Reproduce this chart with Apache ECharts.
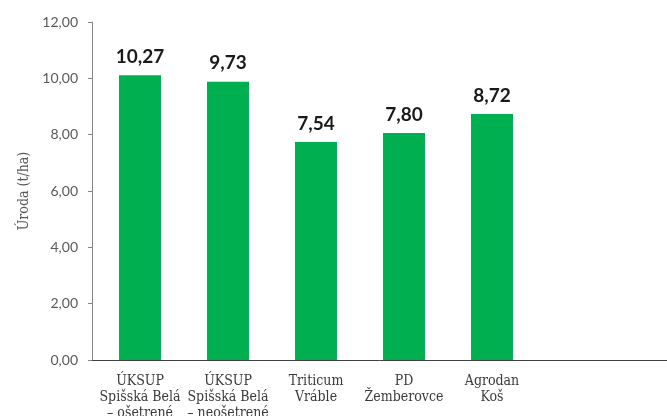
<!DOCTYPE html>
<html>
<head>
<meta charset="utf-8">
<script src="https://cdn.jsdelivr.net/npm/echarts@6/dist/echarts.min.js"></script>
<style>
  html, body { margin: 0; padding: 0; background: #fff; }
</style>
</head>
<body>
<div id="myChart" style="width:667px;height:416px"></div>
<script>
// data
var categories = [
  'ÚKSUP\nSpišská Belá\n– ošetrené',
  'ÚKSUP\nSpišská Belá\n– neošetrené',
  'Triticum\nVráble',
  'PD\nŽemberovce',
  'Agrodan\nKoš'
]
// bar heights as drawn
var barValues = [10.11, 9.88, 7.74, 8.06, 8.73]
// value labels as printed above the bars
var barLabels = ['10,27', '9,73', '7,54', '7,80', '8,72']
var yTicks = { min: 0, max: 12, interval: 2 }

var myChart = echarts.init(document.getElementById('myChart'))

var options = {
  animation: false,
  grid: [
    { left: 96, right: 131, top: 22, bottom: 56, outerBoundsMode: 'none' },
    { left: 92, right: 0, top: 22, bottom: 56, outerBoundsMode: 'none' }
  ],
  xAxis: [{
    type: 'category',
    gridIndex: 0,
    data: categories,
    axisLine: { show: false },
    axisTick: { show: false },
    axisLabel: {
      margin: 13,
      interval: 0,
      color: '#3a3a3a',
      fontFamily: 'DejaVu Serif Condensed',
      fontSize: 14,
      lineHeight: 16
    }
  }, {
    type: 'value',
    gridIndex: 1,
    min: 0,
    max: 1,
    axisLine: { show: true, onZero: false, lineStyle: { color: '#404040', width: 1 } },
    axisTick: { show: false },
    axisLabel: { show: false },
    splitLine: { show: false }
  }],
  yAxis: [{
    type: 'value',
    gridIndex: 0,
    min: yTicks.min,
    max: yTicks.max,
    interval: yTicks.interval,
    show: false
  }, {
    type: 'value',
    gridIndex: 1,
    min: yTicks.min,
    max: yTicks.max,
    interval: yTicks.interval,
    name: 'Úroda (t/ha)',
    nameLocation: 'middle',
    nameGap: 54,
    nameTextStyle: { color: '#595959', fontFamily: 'DejaVu Serif Condensed', fontSize: 14 },
    axisLine: { show: true, lineStyle: { color: '#868686' } },
    axisTick: { show: true, length: 4, lineStyle: { color: '#868686' } },
    axisLabel: {
      margin: 14,
      color: '#595959',
      fontFamily: 'Lato',
      fontSize: 14,
      formatter: function (v) { return v.toFixed(2).replace('.', ',') }
    },
    splitLine: { show: false }
  }],
  series: [{
    type: 'bar',
    xAxisIndex: 0,
    yAxisIndex: 0,
    data: barValues,
    barWidth: 42,
    itemStyle: { color: '#00B050' },
    label: {
      show: true,
      position: 'top',
      distance: 9,
      color: '#1a1a1a',
      fontFamily: 'Lato',
      fontWeight: 'bold',
      fontSize: 19,
      formatter: function (p) { return barLabels[p.dataIndex] }
    }
  }]
}

myChart.setOption(options)
</script>
</body>
</html>
